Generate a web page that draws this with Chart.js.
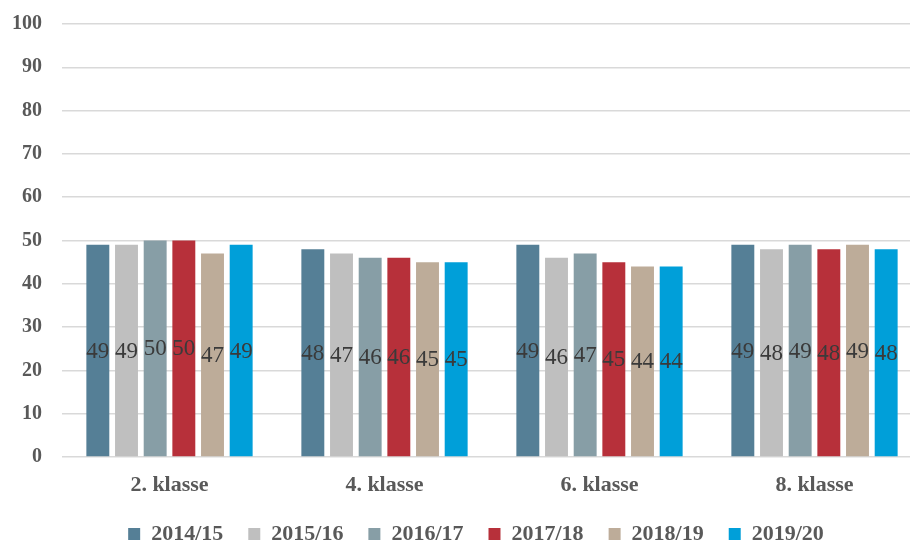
<!DOCTYPE html>
<html>
<head>
<meta charset="utf-8">
<script src="https://cdn.jsdelivr.net/npm/chart.js@4/dist/chart.umd.min.js"></script>
<style>
  html, body { margin: 0; padding: 0; background: #fff; }
  #wrap { width: 910px; height: 542px; }
</style>
</head>
<body>
<div id="wrap"><canvas id="chart"></canvas></div>
<script>
const categories = ['2. klasse', '4. klasse', '6. klasse', '8. klasse'];
const seasons = ['2014/15', '2015/16', '2016/17', '2017/18', '2018/19', '2019/20'];
const colors = ['#557f96', '#bfbfbf', '#879ea6', '#b7303a', '#bdac99', '#009fd9'];

const s2014 = [49, 48, 49, 49];
const s2015 = [49, 47, 46, 48];
const s2016 = [50, 46, 47, 49];
const s2017 = [50, 46, 45, 48];
const s2018 = [47, 45, 44, 49];
const s2019 = [49, 45, 44, 48];
const series = [s2014, s2015, s2016, s2017, s2018, s2019];

const FONT = '"Liberation Serif", "DejaVu Serif", serif';
const TEXT = '#595959';

// draws the value in the middle of each bar
const barLabels = {
  id: 'barLabels',
  afterDatasetsDraw(chart) {
    const { ctx } = chart;
    ctx.save();
    ctx.font = `23px ${FONT}`;
    ctx.fillStyle = '#3a3a3a';
    ctx.textAlign = 'center';
    ctx.textBaseline = 'middle';
    chart.data.datasets.forEach((ds, i) => {
      chart.getDatasetMeta(i).data.forEach((bar, j) => {
        ctx.fillText(String(ds.data[j]), bar.x, (bar.y + bar.base) / 2 + 1);
      });
    });
    ctx.restore();
  }
};

// the original plot runs a little past the right edge of the picture;
// stretch the plot area and keep the legend where it was
const layoutTweak = {
  id: 'layoutTweak',
  afterLayout(chart) {
    const ext = 12;
    const x = chart.scales.x;
    x.right += ext;
    x.width += ext;
    chart.chartArea.right += ext;
    chart.chartArea.width += ext;
    x.configure();

    const lg = chart.legend;
    if (!lg) return;
    const dx = 476 - (lg.left + lg.right) / 2;
    lg.left += dx;
    lg.right += dx;
  }
};

new Chart(document.getElementById('chart').getContext('2d'), {
  type: 'bar',
  data: {
    labels: categories,
    datasets: seasons.map((s, i) => ({
      label: s,
      data: series[i],
      backgroundColor: colors[i],
      borderWidth: 0,
      categoryPercentage: 0.8,
      barPercentage: 0.8
    }))
  },
  options: {
    responsive: true,
    maintainAspectRatio: false,
    animation: false,
    layout: { padding: { top: 24, right: 0, left: 0, bottom: -13 } },
    scales: {
      x: {
        grid: { display: false },
        border: { display: false },
        ticks: { color: TEXT, font: { family: FONT, size: 22, weight: 'bold' }, padding: 7 },
        afterFit: (s) => { s.height = 41; }
      },
      y: {
        min: 0,
        max: 100,
        ticks: { stepSize: 10, color: TEXT, font: { family: FONT, size: 20, weight: 'bold' }, padding: 20 },
        grid: { color: '#d9d9d9', lineWidth: 1.5, drawTicks: false },
        border: { display: false },
        afterFit: (s) => { s.width = 62; s.paddingTop = 0; s.paddingBottom = 0; }
      }
    },
    plugins: {
      legend: {
        position: 'bottom',
        labels: {
          color: TEXT,
          font: { family: FONT, size: 22, weight: 'bold' },
          boxWidth: 12,
          boxHeight: 12,
          padding: 25
        }
      },
      tooltip: { enabled: false }
    }
  },
  plugins: [barLabels, layoutTweak]
});
</script>
</body>
</html>
